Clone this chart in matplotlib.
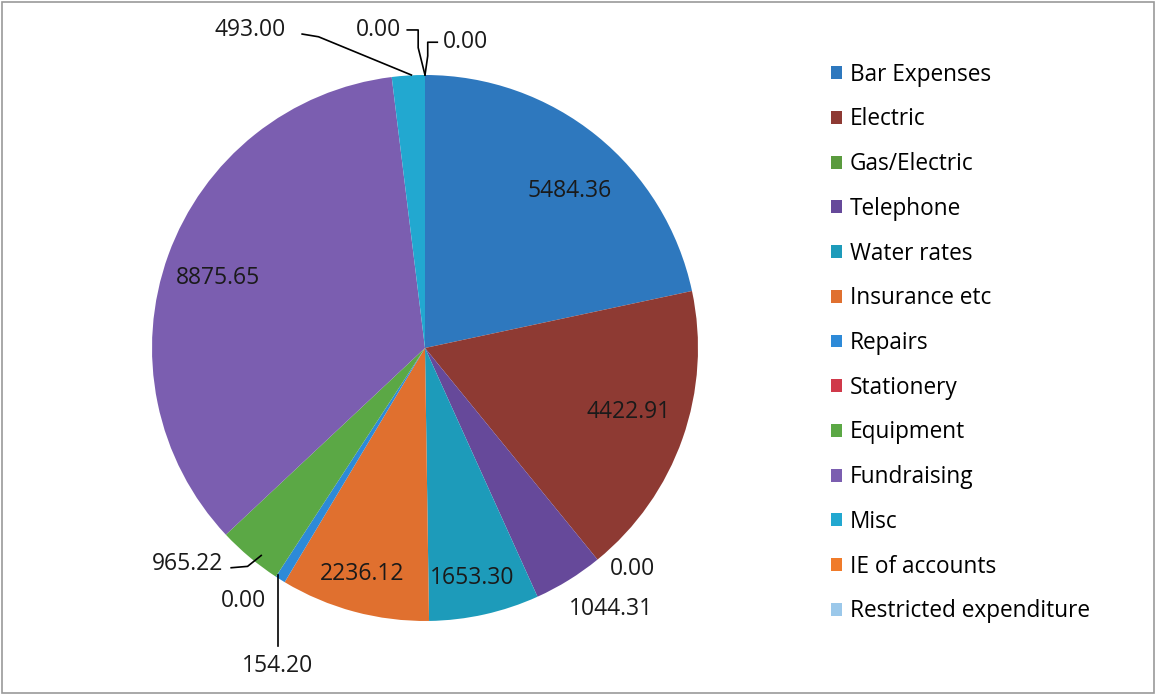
import numpy as np
import matplotlib
matplotlib.use("Agg")
import matplotlib.pyplot as plt
from matplotlib.patches import Rectangle, Patch

plt.rcParams['font.family'] = ['Open Sans', 'DejaVu Sans']

# data
categories = ["Bar Expenses", "Electric", "Gas/Electric", "Telephone", "Water rates",
              "Insurance etc", "Repairs", "Stationery", "Equipment", "Fundraising",
              "Misc", "IE of accounts", "Restricted expenditure"]
values = [5484.36, 4422.91, 0.00, 1044.31, 1653.30, 2236.12, 154.20, 0.00,
          965.22, 8875.65, 493.00, 0.00, 0.00]
colors = ["#2E78BE", "#8E3A33", "#5A9B3E", "#66499A", "#1D9BBA", "#E0702F",
          "#2D8AD8", "#D0394A", "#5BA845", "#7B5EB0", "#22A8D0", "#F07B2A", "#9BC8EA"]

FS = 16.5
LFS = 16.3

fig = plt.figure(figsize=(11.56, 6.95), dpi=100)
fig.patches.append(Rectangle((0.002, 0.003), 0.996, 0.994, transform=fig.transFigure,
                             fill=False, edgecolor="#9a9a9a", lw=1.2))

ax = fig.add_axes([0.1315, 0.1065, 0.4723, 0.7856])
wedges, _ = ax.pie(values, colors=colors, startangle=90, counterclock=False,
                   wedgeprops=dict(linewidth=0))
ax.set_xlim(-1, 1)
ax.set_ylim(-1, 1)
ax.set_aspect("equal")

# label placement: inside labels (radius, angle shift), outside labels (text pos, leader path)
inside = {0: (0.78, -3.7), 1: (0.78, 1.9), 4: (0.86, -1), 5: (0.86, -0.5), 9: (0.80, 1.1)}
outside = {
    2: ((0.76, -0.81), None),
    3: ((0.68, -0.955), None),
    6: ((-0.54, -1.165), [(-0.54, -1.09), (-0.54, -0.83)]),
    7: ((-0.665, -0.925), None),
    8: ((-0.87, -0.79), [(-0.71, -0.805), (-0.65, -0.80), (-0.60, -0.76)]),
    10: ((-0.64, 1.165), [(-0.45, 1.15), (-0.39, 1.14), (-0.05, 1.0)]),
    11: ((-0.17, 1.165), [(-0.065, 1.165), (-0.025, 1.165), (-0.025, 1.10), (0.0, 1.0)]),
    12: ((0.15, 1.12), [(0.045, 1.12), (0.01, 1.12), (0.01, 1.07), (0.0, 1.0)]),
}

for i, w in enumerate(wedges):
    mid = np.deg2rad((w.theta1 + w.theta2) / 2)
    txt = f"{values[i]:.2f}"
    if i in inside:
        r, da = inside[i]
        a = mid + np.deg2rad(da)
        ax.text(r * np.cos(a), r * np.sin(a), txt, ha="center", va="center",
                fontsize=FS, color="#1a1a1a")
    else:
        pos, path = outside[i]
        ax.text(pos[0], pos[1], txt, ha="center", va="center", fontsize=FS,
                color="#1a1a1a", clip_on=False)
        if path:
            xs = [p[0] for p in path]
            ys = [p[1] for p in path]
            ax.plot(xs, ys, color="black", lw=1.2, clip_on=False)

handles = [Patch(facecolor=c, edgecolor="none") for c in colors]
fig.legend(handles, categories, loc="upper left", bbox_to_anchor=(0.701, 0.939),
           frameon=False, fontsize=LFS, handlelength=0.5, handleheight=0.5,
           handletextpad=0.35, labelspacing=0.915)

fig.savefig("out.png", dpi=100, facecolor="white")
